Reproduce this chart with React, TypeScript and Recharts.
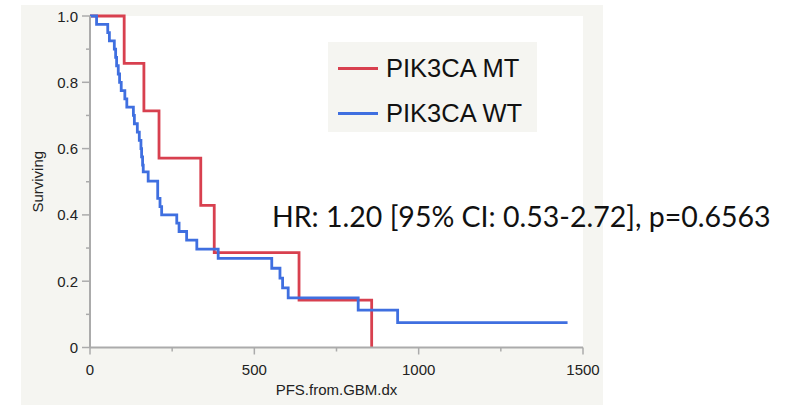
import { LineChart, Line, XAxis, YAxis, CartesianGrid, Legend } from "recharts";

// Kaplan-Meier steps (time in days, fraction surviving)
const mtTime = [0, 104, 164, 210, 337, 378, 636, 857];
const mtSurv = [1, 0.857, 0.714, 0.571, 0.429, 0.286, 0.143, 0];

const wtTime = [
  0, 20, 54, 59, 74, 78, 81, 86, 90, 95, 106, 112, 132, 135, 144, 150, 155, 157, 160, 162,
  177, 206, 213, 218, 264, 271, 294, 325, 390, 553, 578, 586, 603, 816, 936, 1453,
];
const wtSurv = [
  1, 0.975, 0.95, 0.925, 0.9, 0.875, 0.85, 0.825, 0.8, 0.775, 0.75, 0.725, 0.7, 0.675, 0.65,
  0.625, 0.6, 0.575, 0.55, 0.53, 0.502, 0.45, 0.425, 0.4, 0.375, 0.35, 0.324, 0.297, 0.269,
  0.239, 0.209, 0.18, 0.15, 0.113, 0.075, 0.075,
];

const xTicks = [0, 250, 500, 750, 1000, 1250, 1500];
const xMajor = [0, 500, 1000, 1500];
const yTicks = [0, 0.1, 0.2, 0.3, 0.4, 0.5, 0.6, 0.7, 0.8, 0.9, 1];
const yMajor = [0, 0.2, 0.4, 0.6, 0.8, 1];
const yLabels = ["0", "0.2", "0.4", "0.6", "0.8", "1.0"];

const RED = "#d8404f";
const BLUE = "#3f6fe0";
const FRAME = "#ababab";
const PANEL = "#f5f5f1";
const FONT = "'Liberation Sans', Arial, sans-serif";

const TICK_SIZE = 8;
const TICK_MARGIN = 4;

const mtData = mtTime.map((t, i) => ({ t, s: mtSurv[i] }));
const wtData = wtTime.map((t, i) => ({ t, s: wtSurv[i] }));

function YTick(props: any) {
  const { x, y, payload } = props;
  const idx = yMajor.findIndex((v) => Math.abs(v - payload.value) < 1e-6);
  const axisX = x + TICK_SIZE + TICK_MARGIN;
  return (
    <g>
      <line x1={axisX} x2={axisX - (idx >= 0 ? TICK_SIZE : 4)} y1={y} y2={y} stroke={FRAME} strokeWidth={1.5} />
      {idx >= 0 && (
        <text x={x} y={y} textAnchor="end" dominantBaseline="central" fontSize={15} fontFamily={FONT} fill="#222">
          {yLabels[idx]}
        </text>
      )}
    </g>
  );
}

function XTick(props: any) {
  const { x, y, payload } = props;
  const major = xMajor.includes(payload.value);
  const axisY = y - TICK_SIZE - TICK_MARGIN;
  return (
    <g>
      <line x1={x} x2={x} y1={axisY} y2={axisY + (major ? 7 : 4)} stroke={FRAME} strokeWidth={1.5} />
      {major && (
        <text x={x} y={axisY + 27} textAnchor="middle" fontSize={15} fontFamily={FONT} fill="#222">
          {payload.value}
        </text>
      )}
    </g>
  );
}

function LegendBox(props: any) {
  const items = props.payload ?? [];
  return (
    <div
      style={{
        width: 209,
        height: 90,
        background: PANEL,
        boxSizing: "border-box",
        paddingTop: 6,
        fontFamily: FONT,
      }}
    >
      {items.map((it: any) => (
        <div key={it.value} style={{ display: "flex", alignItems: "center", height: 40, marginBottom: 5 }}>
          <div style={{ width: 40, height: 3, background: it.color, marginLeft: 10, marginRight: 8 }} />
          <span style={{ fontSize: 25.5, color: "#111" }}>{it.value}</span>
        </div>
      ))}
    </div>
  );
}

export default function App() {
  return (
    <div style={{ position: "absolute", left: 0, top: 0, width: 798, height: 409, background: "#fff" }}>
      <div style={{ position: "absolute", left: 21, top: 5, width: 582, height: 400, background: PANEL }} />
      <div style={{ position: "absolute", left: 0, top: 0 }}>
        <LineChart width={603} height={409} margin={{ top: 16, right: 20, bottom: 31.5, left: 30 }}>
          <CartesianGrid horizontal={false} vertical={false} fill="#fff" />
          <XAxis
            dataKey="t"
            type="number"
            domain={[0, 1500]}
            ticks={xTicks}
            interval={0}
            height={30}
            tickSize={TICK_SIZE}
            tickMargin={TICK_MARGIN}
            tickLine={false}
            tick={<XTick />}
            axisLine={{ stroke: FRAME, strokeWidth: 2 }}
            label={{ value: "PFS.from.GBM.dx", position: "bottom", offset: 7, fontSize: 15, fontFamily: FONT, fill: "#222" }}
          />
          <XAxis xAxisId="top" orientation="top" type="number" domain={[0, 1500]} height={0} tick={false} tickLine={false} axisLine={{ stroke: FRAME, strokeWidth: 2 }} />
          <YAxis
            type="number"
            domain={[0, 1]}
            ticks={yTicks}
            interval={0}
            width={60}
            tickSize={TICK_SIZE}
            tickMargin={TICK_MARGIN}
            tickLine={false}
            tick={<YTick />}
            axisLine={{ stroke: FRAME, strokeWidth: 2 }}
            label={{ value: "Surviving", angle: -90, position: "insideLeft", offset: 7.5, fontSize: 15, fontFamily: FONT, fill: "#222", style: { textAnchor: "middle" } }}
          />
          <YAxis yAxisId="right" orientation="right" type="number" domain={[0, 1]} width={0} tick={false} tickLine={false} axisLine={{ stroke: FRAME, strokeWidth: 2 }} />
          <Legend
            layout="vertical"
            align="center"
            verticalAlign="middle"
            content={<LegendBox />}
            wrapperStyle={{ position: "absolute", left: 328, top: 42, width: 209, height: 90 }}
          />
          <Line data={mtData} dataKey="s" name="PIK3CA MT" type="stepAfter" stroke={RED} strokeWidth={2.8} dot={false} isAnimationActive={false} />
          <Line data={wtData} dataKey="s" name="PIK3CA WT" type="stepAfter" stroke={BLUE} strokeWidth={2.8} dot={false} isAnimationActive={false} />
        </LineChart>
      </div>
      <div
        style={{
          position: "absolute",
          left: 272,
          top: 201.5,
          fontFamily: "Lato, 'Open Sans', sans-serif",
          fontSize: 28.5,
          lineHeight: 1,
          color: "#111",
          whiteSpace: "nowrap",
        }}
      >
        HR: 1.20 [95% CI: 0.53-2.72], p=0.6563
      </div>
    </div>
  );
}
